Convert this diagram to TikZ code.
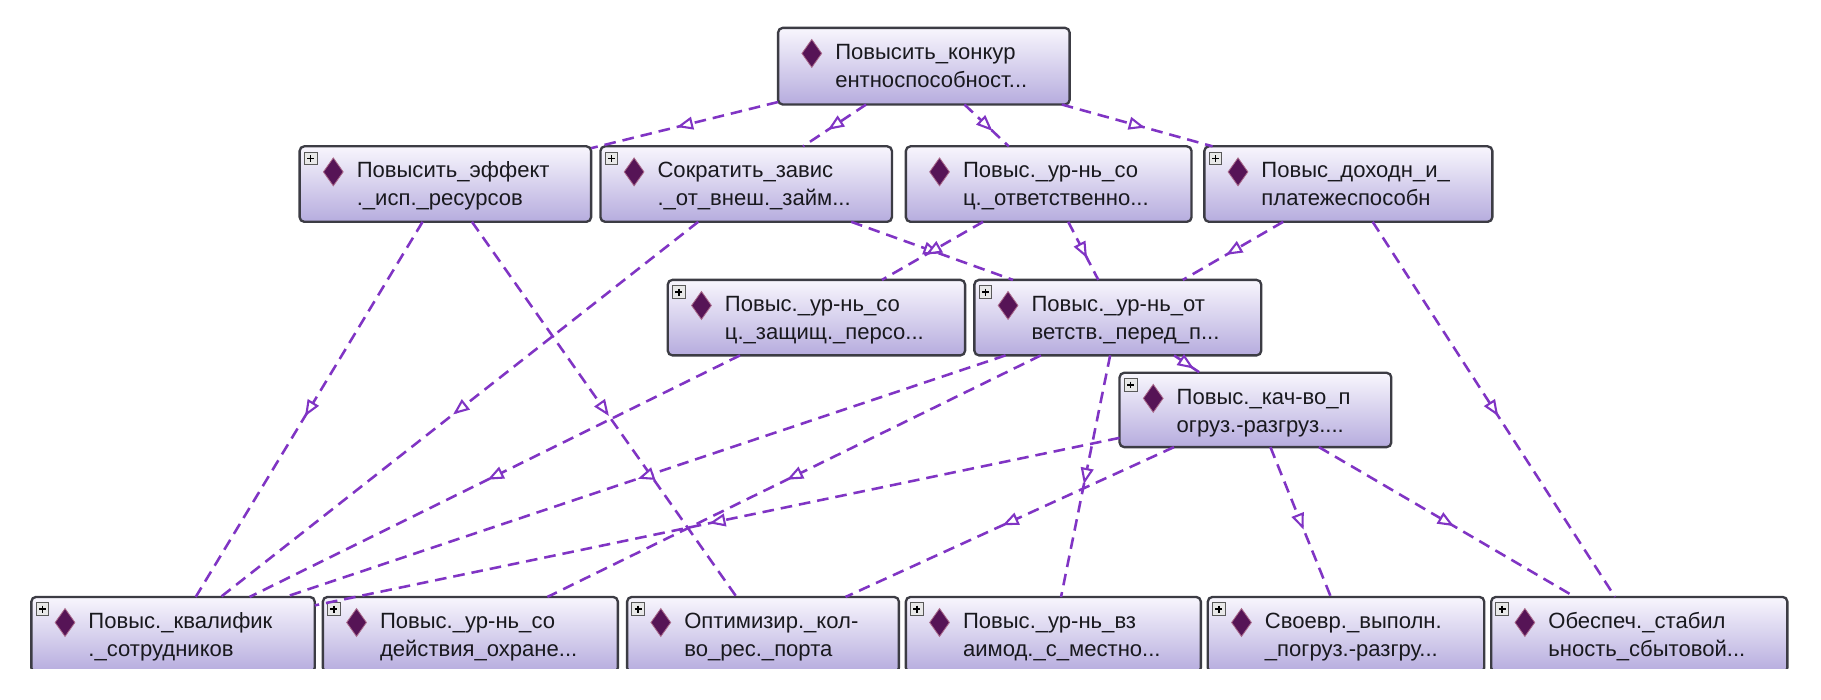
\documentclass[tikz,border=0pt]{standalone}
\usepackage{fontspec}
\setmainfont{Liberation Sans}
\usetikzlibrary{arrows.meta,decorations.markings}
\definecolor{edgec}{RGB}{128,52,196}
\definecolor{boxtop}{RGB}{248,246,253}
\definecolor{boxbot}{RGB}{182,172,222}
\definecolor{boxline}{RGB}{60,60,68}
\definecolor{diac}{RGB}{86,20,86}
\definecolor{txt}{RGB}{25,25,30}
\tikzset{
 gbox/.style={rectangle, rounded corners=4pt, draw=boxline, line width=2pt, top color=boxtop, bottom color=boxbot, inner sep=0pt, outer sep=0pt},
 lbl/.style={anchor=base west, inner sep=0pt, font=\fontsize{19}{23}\selectfont, text=txt},
 diashape/.style={fill=diac, draw=diac!50!pink, line width=0.7pt},
 isa/.style={draw=edgec, line width=2.2pt, dash pattern=on 10pt off 6pt,
   decoration={markings, mark=at position 0.5 with {\arrow[xshift=7pt]{Triangle[open, fill=white, length=14pt, width=11pt, line width=1.8pt]}}},
   postaction={decorate}},
 plusbox/.style={draw=gray!70!black, fill=gray!18, line width=0.8pt},
 plusmark/.style={draw=black, line width=1.3pt}
}
% #1 name, #2 x1, #3 y1, #4 x2, #5 y2, #6 line 1, #7 line 2, #8 plus flag
\newcommand{\ogbox}[8]{%
  \node[gbox, minimum width={(#4-#2)*1pt}, minimum height={(#5-#3)*1pt}] (#1) at ({(#2+#4)/2},{-(#3+#5)/2}) {};
  \fill[diashape] ({#2+29},{-(#3+10)}) -- ({#2+37.5},{-(#3+22)}) -- ({#2+29},{-(#3+34)}) -- ({#2+20.5},{-(#3+22)}) -- cycle;
  \node[lbl] (#1a) at ({#2+49},{-(#3+27)}) {#6};
  \node[lbl] (#1b) at ({#2+49},{-(#3+51)}) {#7};
  \ifnum#8=1
    \draw[plusbox] ({#2+4},{-(#3+5)}) rectangle ({#2+15},{-(#3+16)});
    \draw[plusmark] ({#2+6.5},{-(#3+10.5)}) -- ({#2+12.5},{-(#3+10.5)});
    \draw[plusmark] ({#2+9.5},{-(#3+7.5)}) -- ({#2+9.5},{-(#3+13.5)});
  \fi
}
\begin{document}
\begin{tikzpicture}[x=1pt,y=1pt]
\useasboundingbox (0,0) rectangle (1568,-602);
\fill[white] (0,0) rectangle (1568,-602);

\ogbox{T}{670}{24}{921}{90}{Повысить\_конкур}{ентноспособност...}{0}
\ogbox{A}{258}{126}{509}{191}{Повысить\_эффект}{.\_исп.\_ресурсов}{1}
\ogbox{B}{517}{126}{768}{191}{Сократить\_завис}{.\_от\_внеш.\_займ...}{1}
\ogbox{C}{780}{126}{1026}{191}{Повыс.\_ур-нь\_со}{ц.\_ответственно...}{0}
\ogbox{D}{1037}{126}{1285}{191}{Повыс\_доходн\_и\_}{платежеспособн}{1}
\ogbox{E}{575}{241}{831}{306}{Повыс.\_ур-нь\_со}{ц.\_защищ.\_персо...}{1}
\ogbox{F}{839}{241}{1086}{306}{Повыс.\_ур-нь\_от}{ветств.\_перед\_п...}{1}
\ogbox{G}{964}{321}{1198}{385}{Повыс.\_кач-во\_п}{огруз.-разгруз....}{1}
\ogbox{H}{27}{514}{271}{579}{Повыс.\_квалифик}{.\_сотрудников}{1}
\ogbox{I}{278}{514}{532}{579}{Повыс.\_ур-нь\_со}{действия\_охране...}{1}
\ogbox{J}{540}{514}{774}{579}{Оптимизир.\_кол-}{во\_рес.\_порта}{1}
\ogbox{K}{780}{514}{1034}{579}{Повыс.\_ур-нь\_вз}{аимод.\_с\_местно...}{1}
\ogbox{L}{1040}{514}{1278}{579}{Своевр.\_выполн.}{\_погруз.-разгру...}{1}
\ogbox{M}{1284}{514}{1539}{579}{Обеспеч.\_стабил}{ьность\_сбытовой...}{1}

\foreach \p/\c in {T/A,T/B,T/C,T/D,A/H,A/J,B/H,B/F,C/E,C/F,D/F,D/M,E/H,F/H,F/I,F/K,F/G,G/H,G/J,G/L,G/M}
  \draw[isa] (\p) -- (\c);

\fill[white] (0,-576) rectangle (1568,-602);
\end{tikzpicture}
\end{document}
